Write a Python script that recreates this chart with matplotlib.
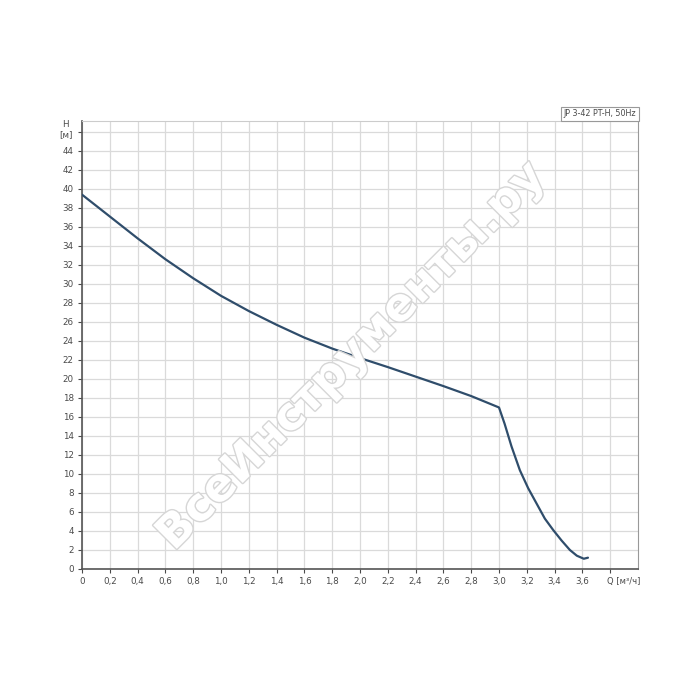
import matplotlib
matplotlib.use("Agg")
import matplotlib.pyplot as plt
import matplotlib.patheffects as pe
from matplotlib.transforms import blended_transform_factory

# pump curve
q_vals = [0.0, 0.2, 0.4, 0.6, 0.8, 1.0, 1.2, 1.4, 1.6, 1.8, 2.0, 2.2, 2.4, 2.6, 2.8, 3.0,
          3.04, 3.09, 3.15, 3.21, 3.27, 3.33, 3.39, 3.45, 3.51, 3.56, 3.61, 3.64]
h_vals = [39.4, 37.1, 34.8, 32.6, 30.6, 28.75, 27.15, 25.7, 24.35, 23.2, 22.2, 21.25, 20.25, 19.25, 18.2, 17.0,
          15.3, 12.9, 10.4, 8.5, 6.9, 5.3, 4.1, 3.0, 2.0, 1.4, 1.08, 1.19]

x_ticks = [round(0.2 * i, 1) for i in range(20)]
x_labels = [f"{v:.1f}".replace(".", ",") if v > 0 else "0" for v in x_ticks[:19]] + [""]
y_ticks = list(range(0, 47, 2))
y_labels = [str(v) for v in y_ticks[:-1]] + [""]

curve_name = "JP 3-42 PT-H, 50Hz"
watermark = "ВсеИнструменты.ру"

txt = "#4a4a4a"

fig = plt.figure(figsize=(7, 7), dpi=100)
ax = fig.add_axes([82 / 700, 1 - 569 / 700, 556 / 700, 448 / 700])

ax.plot(q_vals, h_vals, color="#2f4d6b", lw=1.6, zorder=5,
        solid_joinstyle="round", solid_capstyle="round")

ax.set_xlim(0, 4.0)
ax.set_ylim(0, 47.15)
ax.set_xticks(x_ticks)
ax.set_xticklabels(x_labels)
ax.set_yticks(y_ticks)
ax.set_yticklabels(y_labels)
ax.tick_params(direction="out", length=3, width=0.8, colors=txt, labelsize=6.3, pad=3)
ax.grid(True, color="#dadada", lw=0.9, zorder=0)
ax.set_axisbelow(True)

for s in ["left", "bottom"]:
    ax.spines[s].set_color("#555555")
    ax.spines[s].set_linewidth(1.2)
ax.spines["top"].set_color("#cccccc")
ax.spines["right"].set_color("#999999")

trans = blended_transform_factory(ax.transData, ax.transAxes)
ax.text(3.78, -0.018, "Q [м³/ч]", transform=trans, ha="left", va="top",
        fontsize=6, color=txt)
ax.text(-0.029, 0.992, "H", transform=ax.transAxes, ha="center", va="center",
        fontsize=6.3, color=txt)
ax.text(-0.029, 0.970, "[м]", transform=ax.transAxes, ha="center", va="center",
        fontsize=6.3, color=txt)

ax.text(0.997, 1.006, curve_name, transform=ax.transAxes, ha="right", va="bottom",
        fontsize=5.8, color=txt, zorder=6,
        bbox=dict(boxstyle="square,pad=0.3", fc="white", ec="#999999", lw=0.8))

# watermark
wm = fig.text(352 / 700, 1 - 356 / 700, watermark, rotation=45, rotation_mode="anchor",
              ha="center", va="center", fontsize=33, fontweight="bold",
              color="white", zorder=3)
wm.set_path_effects([pe.Stroke(linewidth=2.0, foreground="#d6d6d6"), pe.Normal()])

fig.savefig("out.png", dpi=100, facecolor="white")
